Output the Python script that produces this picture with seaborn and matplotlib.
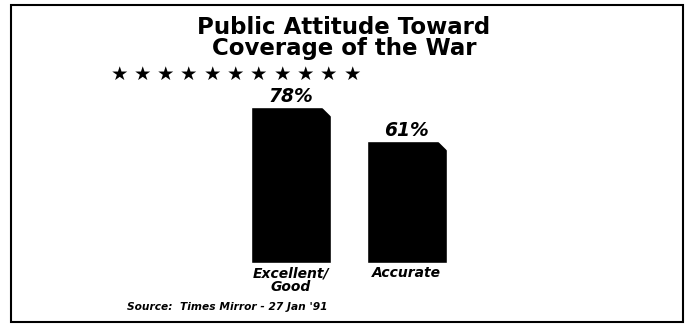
import matplotlib
matplotlib.use("Agg")
import matplotlib.pyplot as plt
import seaborn as sns
import pandas as pd
from matplotlib.patches import Polygon, Rectangle

categories = ["Excellent/\nGood", "Accurate"]
values = [78, 61]
value_labels = ["78%", "61%"]
title = "Public Attitude Toward\nCoverage of the War"
source = "Source:  Times Mirror - 27 Jan '91"

sns.set_theme(style="white")
plt.rcParams['font.family'] = ['DejaVu Sans']
plt.rcParams['text.color'] = 'black'

df = pd.DataFrame({"category": categories, "value": values})

W, H = 687, 324
fig = plt.figure(figsize=(6.87, 3.24), dpi=100)
ax = fig.add_axes([0, 0, 1, 1])
sns.barplot(data=df, x="category", y="value", color="black", width=0.692,
            saturation=1, ax=ax)
# 116 px between bar centres, 2 px per percent, baseline at y=262.7 px
ax.set_xlim(-290.8 / 116.1, (W - 290.8) / 116.1)
ax.set_ylim(-(H - 262.7) / 2.0, 262.7 / 2.0)
ax.axis("off")

# clipped top-right corner of each bar
cut_x, cut_y = 10 / 116.1, 5.5
for p, lab in zip(ax.patches, value_labels):
    x0, w, h = p.get_x(), p.get_width(), p.get_height()
    ax.add_patch(Polygon([(x0 + w - cut_x, h + 0.01), (x0 + w + 0.01, h + 0.5),
                          (x0 + w + 0.01, h - cut_y)],
                         closed=True, facecolor="white", edgecolor="none", zorder=5))
    ax.text(x0 + w / 2, h + 0.6, lab, ha="center", va="bottom", fontsize=13.5,
            fontweight="bold", fontstyle="italic")

for i, cat in enumerate(categories):
    ax.text(i, -1.8, cat, ha="center", va="top", fontsize=10, fontweight="bold",
            fontstyle="italic", linespacing=1.0)

fig.text(344 / W, 1 - 15.5 / H, title, ha="center", va="top", fontsize=16.5,
         fontweight="bold", linespacing=0.92)
for k in range(11):
    fig.text((119 + 23.3 * k) / W, 1 - 74.5 / H, "★", ha="center", va="center",
             fontsize=14)
fig.text(127 / W, 1 - 306.5 / H, source, ha="left", va="center", fontsize=7.7,
         fontweight="bold", fontstyle="italic")

fig.add_artist(Rectangle((11 / W, 2 / H), 672 / W, 317 / H, transform=fig.transFigure,
                         fill=False, edgecolor="black", linewidth=1.5))

fig.savefig("out.png", dpi=100)
